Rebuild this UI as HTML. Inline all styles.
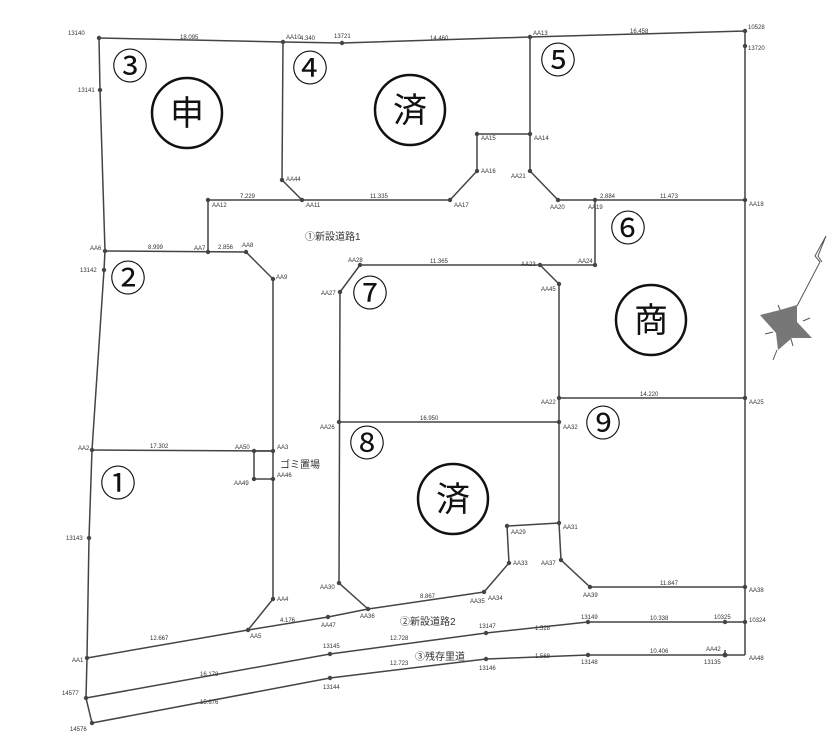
<!DOCTYPE html>
<html><head><meta charset="utf-8"><style>
body{margin:0;background:#fff}
svg{display:block}
.l{stroke:#444;stroke-width:1.5;fill:none}
.t{font-family:"Liberation Sans",sans-serif;font-size:6px;fill:#333}
.n{font-family:"Noto Sans CJK JP",sans-serif;font-size:36px;fill:#111}
.c{font-family:"Noto Sans CJK JP",sans-serif;font-size:34px;fill:#111}
.j{font-family:"Liberation Sans","Noto Sans CJK JP",sans-serif;font-size:10px;fill:#333}
</style></head><body>
<svg width="839" height="750" viewBox="0 0 839 750">
<g class="l">
<polyline points="99,38 283,42 342,43 530,37 745,31 745,655"/>
<polyline points="99,38 100,90 105,251 104,270 92,450 89,538 87,658 86,698 92,723"/>
<polyline points="283,42 282,180 302,200 450,200 477,171 477,134 530,134 530,37"/>
<polyline points="530,134 530,171 558,200 745,200"/>
<polyline points="302,200 208,200 208,252"/>
<polyline points="105,251 246,252 273,279 273,599 248,630"/>
<polyline points="595,200 595,265 540,265 360,265 340,292 339,583 368,609"/>
<polyline points="540,265 559,284 559,523 561,560 590,587 745,587"/>
<polyline points="559,398 745,398"/>
<polyline points="339,422 559,422"/>
<polyline points="92,450 273,451"/>
<polyline points="273,451 254,451 254,479 273,479"/>
<polyline points="559,523 507,526 509,563 484,592"/>
<polyline points="87,658 248,630 328,617 368,609 484,592"/>
<polyline points="86,698 330,654 486,633 588,622 725,622 745,622"/>
<polyline points="92,723 330,678 486,659 588,655 725,655 745,655"/>
<polyline points="725,650 725,655"/>
</g>
<g fill="#444">
<circle cx="99" cy="38" r="2.2"/><circle cx="283" cy="42" r="2.2"/><circle cx="342" cy="43" r="2.2"/><circle cx="530" cy="37" r="2.2"/><circle cx="745" cy="31" r="2.2"/><circle cx="745" cy="46" r="2.2"/>
<circle cx="100" cy="90" r="2.2"/><circle cx="105" cy="251" r="2.2"/><circle cx="104" cy="270" r="2.2"/><circle cx="92" cy="450" r="2.2"/><circle cx="89" cy="538" r="2.2"/><circle cx="87" cy="658" r="2.2"/><circle cx="86" cy="698" r="2.2"/><circle cx="92" cy="723" r="2.2"/>
<circle cx="282" cy="180" r="2.2"/><circle cx="302" cy="200" r="2.2"/><circle cx="208" cy="200" r="2.2"/><circle cx="208" cy="252" r="2.2"/><circle cx="246" cy="252" r="2.2"/><circle cx="273" cy="279" r="2.2"/>
<circle cx="450" cy="200" r="2.2"/><circle cx="477" cy="171" r="2.2"/><circle cx="477" cy="134" r="2.2"/><circle cx="530" cy="134" r="2.2"/><circle cx="530" cy="171" r="2.2"/><circle cx="558" cy="200" r="2.2"/><circle cx="595" cy="200" r="2.2"/><circle cx="745" cy="200" r="2.2"/>
<circle cx="595" cy="265" r="2.2"/><circle cx="540" cy="265" r="2.2"/><circle cx="360" cy="265" r="2.2"/><circle cx="340" cy="292" r="2.2"/><circle cx="559" cy="284" r="2.2"/>
<circle cx="559" cy="398" r="2.2"/><circle cx="745" cy="398" r="2.2"/><circle cx="559" cy="422" r="2.2"/><circle cx="339" cy="422" r="2.2"/>
<circle cx="273" cy="451" r="2.2"/><circle cx="254" cy="451" r="2.2"/><circle cx="254" cy="479" r="2.2"/><circle cx="273" cy="479" r="2.2"/>
<circle cx="559" cy="523" r="2.2"/><circle cx="507" cy="526" r="2.2"/><circle cx="509" cy="563" r="2.2"/><circle cx="561" cy="560" r="2.2"/><circle cx="590" cy="587" r="2.2"/><circle cx="745" cy="587" r="2.2"/>
<circle cx="339" cy="583" r="2.2"/><circle cx="368" cy="609" r="2.2"/><circle cx="484" cy="592" r="2.2"/><circle cx="273" cy="599" r="2.2"/><circle cx="248" cy="630" r="2.2"/><circle cx="328" cy="617" r="2.2"/>
<circle cx="330" cy="654" r="2.2"/><circle cx="486" cy="633" r="2.2"/><circle cx="588" cy="622" r="2.2"/><circle cx="725" cy="622" r="2.2"/><circle cx="745" cy="622" r="2.2"/>
<circle cx="330" cy="678" r="2.2"/><circle cx="486" cy="659" r="2.2"/><circle cx="588" cy="655" r="2.2"/><circle cx="725" cy="655" r="2.5"/>
</g>
<g class="t">
<text x="68" y="35">13140</text><text x="286" y="39">AA10</text><text x="334" y="38">13721</text><text x="533" y="35">AA13</text><text x="748" y="29">10528</text><text x="748" y="50">13720</text>
<text x="78" y="92">13141</text><text x="90" y="250">AA6</text><text x="80" y="272">13142</text><text x="78" y="450">AA2</text><text x="66" y="540">13143</text><text x="72" y="662">AA1</text><text x="62" y="695">14577</text><text x="70" y="731">14576</text>
<text x="286" y="181">AA44</text><text x="306" y="207">AA11</text><text x="212" y="207">AA12</text><text x="194" y="250">AA7</text><text x="242" y="247">AA8</text><text x="276" y="279">AA9</text>
<text x="454" y="207">AA17</text><text x="481" y="173">AA16</text><text x="481" y="140">AA15</text><text x="534" y="140">AA14</text><text x="511" y="178">AA21</text><text x="550" y="209">AA20</text><text x="588" y="209">AA19</text><text x="749" y="206">AA18</text>
<text x="578" y="263">AA24</text><text x="521" y="266">AA23</text><text x="348" y="262">AA28</text><text x="321" y="295">AA27</text><text x="541" y="291">AA45</text>
<text x="541" y="404">AA22</text><text x="749" y="404">AA25</text><text x="563" y="429">AA32</text><text x="320" y="429">AA26</text>
<text x="235" y="449">AA50</text><text x="277" y="449">AA3</text><text x="234" y="485">AA49</text><text x="277" y="477">AA46</text>
<text x="563" y="529">AA31</text><text x="511" y="534">AA29</text><text x="513" y="565">AA33</text><text x="541" y="565">AA37</text><text x="583" y="597">AA39</text><text x="749" y="592">AA38</text>
<text x="320" y="589">AA30</text><text x="360" y="618">AA36</text><text x="488" y="600">AA34</text><text x="470" y="603">AA35</text><text x="277" y="601">AA4</text><text x="250" y="638">AA5</text><text x="321" y="627">AA47</text>
<text x="323" y="648">13145</text><text x="479" y="628">13147</text><text x="581" y="619">13149</text><text x="714" y="619">10325</text><text x="749" y="622">10324</text>
<text x="323" y="689">13144</text><text x="479" y="670">13146</text><text x="581" y="664">13148</text><text x="706" y="651">AA42</text><text x="704" y="664">13135</text><text x="749" y="660">AA48</text>
<text x="180" y="39">18.095</text><text x="300" y="40">4.340</text><text x="430" y="40">14.460</text><text x="630" y="33">16.458</text><text x="240" y="198">7.229</text><text x="370" y="198">11.335</text><text x="430" y="263">11.365</text><text x="600" y="198">2.884</text><text x="660" y="198">11.473</text><text x="148" y="249">8.999</text><text x="218" y="249">2.856</text><text x="420" y="420">16.950</text><text x="150" y="448">17.302</text><text x="640" y="396">14.220</text><text x="660" y="585">11.847</text><text x="150" y="640">12.667</text><text x="280" y="622">4.176</text><text x="420" y="598">8.867</text><text x="200" y="676">16.178</text><text x="200" y="704">15.676</text><text x="390" y="640">12.728</text><text x="390" y="665">12.723</text><text x="535" y="630">1.528</text><text x="535" y="658">1.568</text><text x="650" y="620">10.338</text><text x="650" y="653">10.406</text>
</g>
<g class="j">
<text x="305" y="240">①新設道路1</text><text x="280" y="468">ゴミ置場</text><text x="400" y="625">②新設道路2</text><text x="415" y="660">③残存里道</text>
</g>
<g class="n" text-anchor="middle">
<text x="130" y="79">③</text><text x="310" y="81">④</text><text x="558" y="73">⑤</text><text x="628" y="241">⑥</text><text x="370" y="306">⑦</text><text x="367" y="456">⑧</text><text x="603" y="436">⑨</text><text x="128" y="291">②</text><text x="118" y="496">①</text>
</g>
<g fill="none" stroke="#111" stroke-width="2.5">
<circle cx="187" cy="113" r="35"/><circle cx="410" cy="110" r="35"/><circle cx="651" cy="320" r="35"/><circle cx="453" cy="499" r="35"/>
</g>
<g class="c" text-anchor="middle">
<text x="187" y="125">申</text><text x="410" y="122">済</text><text x="651" y="332">商</text><text x="453" y="511">済</text>
</g>
<g stroke="#555" stroke-width="1" fill="none">
<polyline points="797,306 820,262 815,256 826,236 818,256 822,262"/>
<line x1="778" y1="305" x2="781" y2="312"/><line x1="810" y1="318" x2="803" y2="321"/><line x1="793" y1="346" x2="791" y2="339"/><line x1="765" y1="334" x2="773" y2="332"/><line x1="773" y1="360" x2="777" y2="350"/>
</g>
<path d="M760,315 L780,310 L797,305 L797,322 L812,338 L792,338 L778,350 L776,333 Z" fill="#777"/>
</svg>
</body></html>
